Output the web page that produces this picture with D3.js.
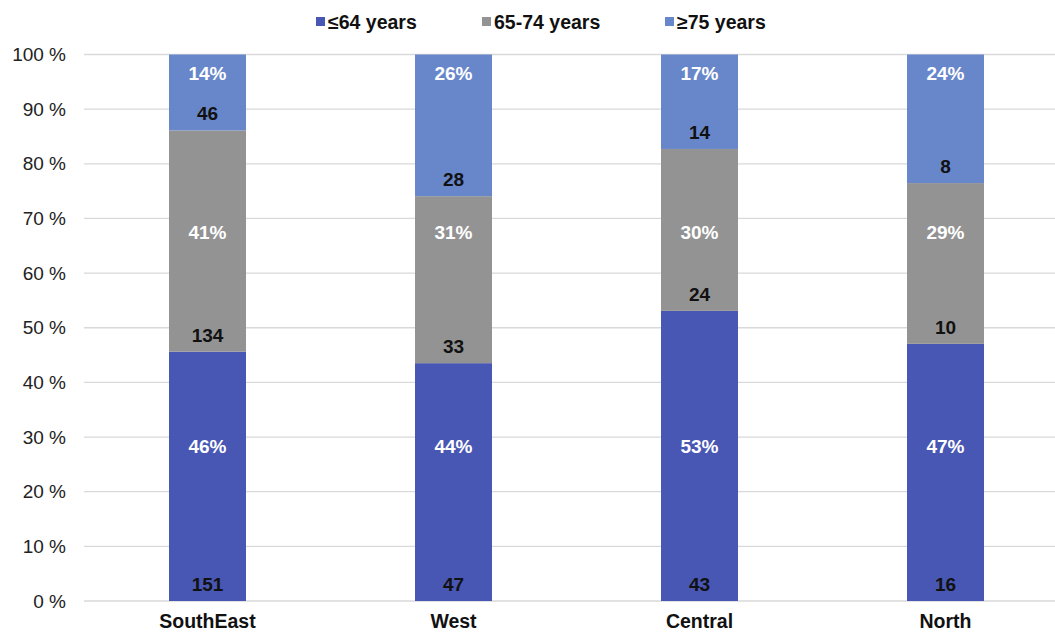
<!DOCTYPE html>
<html>
<head>
<meta charset="utf-8">
<script src="https://cdn.jsdelivr.net/npm/d3@7"></script>
<style>
  body { margin: 0; background: white; }
  text { font-family: "Liberation Sans", Arial, sans-serif; }
</style>
</head>
<body>
<div id="chart"></div>
<script>
// data
var regions  = ["SouthEast", "West", "Central", "North"];
var groups   = ["≤64 years", "65-74 years", "≥75 years"];
var under65  = [151, 47, 43, 16];
var age65_74 = [134, 33, 24, 10];
var over75   = [46, 28, 14, 8];
// percentage labels as printed
var pctUnder65  = [46, 44, 53, 47];
var pct65_74    = [41, 31, 30, 29];
var pctOver75   = [14, 26, 17, 24];
var yTicks   = [0, 10, 20, 30, 40, 50, 60, 70, 80, 90, 100];

var colors = ["#4856B4", "#939393", "#6887CA"];
var pctLabels = [pctUnder65, pct65_74, pctOver75];
// the percentage labels sit at fixed heights in the original
var pctLevels = [28.3, 67.5, 96.6];

var width = 1055, height = 633;

var svg = d3.select("#chart").append("svg")
  .attr("width", width)
  .attr("height", height);

var x = d3.scaleBand()
  .domain(regions)
  .range([84.5, 1068.5])
  .paddingInner(0.687)
  .paddingOuter(0.3435);

var y = d3.scaleLinear()
  .domain([0, 100])
  .range([601, 54.5]);

// gridlines
svg.append("g").selectAll("line")
  .data(yTicks)
  .enter().append("line")
  .attr("x1", 84).attr("x2", width)
  .attr("y1", function(d) { return y(d); })
  .attr("y2", function(d) { return y(d); })
  .style("stroke", "#d9d9d9")
  .style("stroke-width", 1.3);

// y axis labels
var yAxis = d3.axisLeft(y)
  .tickValues(yTicks)
  .tickFormat(function(d) { return d + " %"; })
  .tickSize(0)
  .tickPadding(0);

svg.append("g")
  .attr("transform", "translate(66,0)")
  .call(yAxis)
  .call(function(g) { g.select(".domain").remove(); })
  .selectAll("text")
  .style("font-size", "19px")
  .style("fill", "#222")
  .style("font-family", "'Liberation Sans', Arial, sans-serif");

// build rows
var rows = regions.map(function(r, i) {
  return { region: r, idx: i, a: under65[i], b: age65_74[i], c: over75[i] };
});

var stack = d3.stack()
  .keys(["a", "b", "c"])
  .offset(d3.stackOffsetExpand);

var series = stack(rows);

var layers = svg.selectAll("g.layer")
  .data(series)
  .enter().append("g")
  .attr("class", "layer")
  .style("fill", function(d, i) { return colors[i]; });

layers.selectAll("rect")
  .data(function(d) { return d; })
  .enter().append("rect")
  .attr("x", function(d) { return x(d.data.region); })
  .attr("width", x.bandwidth())
  .attr("y", function(d) { return y(d[1] * 100); })
  .attr("height", function(d) { return y(d[0] * 100) - y(d[1] * 100); });

// count labels at the bottom of each segment, percentages at fixed levels
layers.each(function(s, li) {
  d3.select(this).selectAll("text.count")
    .data(s)
    .enter().append("text")
    .attr("class", "count")
    .attr("x", function(d) { return x(d.data.region) + x.bandwidth() / 2; })
    .attr("y", function(d) { return y(d[0] * 100) - 10; })
    .attr("text-anchor", "middle")
    .style("font-size", "19px")
    .style("font-weight", "bold")
    .style("fill", "#111")
    .text(function(d) { return d.data[s.key]; });

  d3.select(this).selectAll("text.pct")
    .data(s)
    .enter().append("text")
    .attr("class", "pct")
    .attr("x", function(d) { return x(d.data.region) + x.bandwidth() / 2; })
    .attr("y", y(pctLevels[li]))
    .attr("dy", "0.35em")
    .attr("text-anchor", "middle")
    .style("font-size", "19px")
    .style("font-weight", "bold")
    .style("fill", "white")
    .text(function(d) { return pctLabels[li][d.data.idx] + "%"; });
});

// category labels
svg.append("g").selectAll("text")
  .data(regions)
  .enter().append("text")
  .attr("x", function(d) { return x(d) + x.bandwidth() / 2; })
  .attr("y", 628)
  .attr("text-anchor", "middle")
  .style("font-size", "19.5px")
  .style("font-weight", "bold")
  .style("fill", "#111")
  .text(function(d) { return d; });

// legend
var legendX = [316, 482, 665];
var legend = svg.append("g").selectAll("g")
  .data(groups)
  .enter().append("g")
  .attr("transform", function(d, i) { return "translate(" + legendX[i] + ",0)"; });

legend.append("rect")
  .attr("x", 0).attr("y", 17)
  .attr("width", 9).attr("height", 9)
  .style("fill", function(d, i) { return colors[i]; });

legend.append("text")
  .attr("x", 12).attr("y", 29)
  .style("font-size", "19.5px")
  .style("font-weight", "bold")
  .style("fill", "#111")
  .text(function(d) { return d; });
</script>
</body>
</html>
